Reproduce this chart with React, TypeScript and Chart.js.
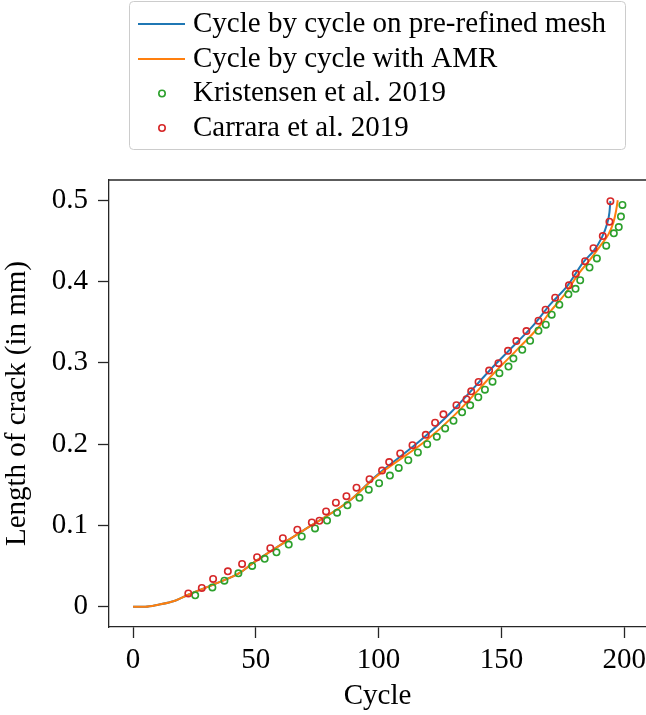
import { useEffect, useRef } from "react";
import { Chart, registerables } from "chart.js";

Chart.register(...registerables);

const FONT = "'Liberation Serif', 'Times New Roman', serif";

const xTickValues = [0, 50, 100, 150, 200];
const yTickValues = [0, 0.1, 0.2, 0.3, 0.4, 0.5];
const yTickLabels = ["0", "0.1", "0.2", "0.3", "0.4", "0.5"];

const seriesLabels = [
  "Cycle by cycle on pre-refined mesh",
  "Cycle by cycle with AMR",
  "Kristensen et al. 2019",
  "Carrara et al. 2019",
];
const seriesColors = ["#1f77b4", "#ff7f0e", "#2ca02c", "#d62728"];

const preRefinedCycles = [0, 5, 10.3, 17.1, 22.5, 34.1, 43.6, 48.5, 69.4, 88.4, 98.6, 117.6, 129.1, 147.5, 156.3, 163, 169.9, 176.7, 183.4, 187.5, 190.9, 193, 194, 194.4];
const preRefinedLength = [0, 0, 0.0025, 0.0074, 0.0148, 0.029, 0.042, 0.053, 0.094, 0.131, 0.16, 0.206, 0.238, 0.298, 0.325, 0.346, 0.372, 0.394, 0.424, 0.4374, 0.454, 0.4704, 0.4848, 0.499];

const amrCycles = [0, 5, 10.3, 17.1, 22.5, 34.1, 43.6, 48.5, 69.4, 88.4, 98.6, 119.6, 131, 147.5, 156.3, 165.5, 169.9, 176, 181.4, 186.2, 190.2, 193.6, 195.6, 196.7, 197.4];
const amrLength = [0, 0, 0.0025, 0.0074, 0.0148, 0.029, 0.042, 0.053, 0.094, 0.131, 0.159, 0.205, 0.236, 0.289, 0.316, 0.345, 0.363, 0.385, 0.4095, 0.4272, 0.4436, 0.458, 0.4725, 0.4868, 0.5];

const kristensenCycles = [25.3, 32.3, 37.2, 42.9, 48.5, 53.6, 58.4, 63.4, 68.7, 74.1, 79.0, 83.1, 87.3, 92.2, 96.0, 100.2, 104.6, 108.2, 112.1, 116.0, 119.8, 123.7, 127.1, 130.5, 134.0, 137.3, 140.6, 143.3, 146.4, 149.2, 152.9, 154.9, 158.5, 161.7, 165.1, 168.1, 170.5, 173.6, 177.3, 180.2, 182.1, 185.9, 188.9, 192.7, 195.8, 197.8, 198.7, 199.3];
const kristensenLength = [0.014, 0.0238, 0.0321, 0.0411, 0.0502, 0.0589, 0.067, 0.0765, 0.0864, 0.0963, 0.106, 0.1157, 0.1247, 0.134, 0.144, 0.1519, 0.1614, 0.1707, 0.1802, 0.1898, 0.2, 0.209, 0.2194, 0.2288, 0.2391, 0.2478, 0.2577, 0.267, 0.2769, 0.2873, 0.2954, 0.3053, 0.316, 0.3272, 0.3395, 0.3469, 0.3593, 0.3716, 0.3843, 0.391, 0.4016, 0.4173, 0.4285, 0.4441, 0.4593, 0.467, 0.4799, 0.4942];

const carraraCycles = [22.5, 28.0, 32.6, 38.6, 44.4, 50.5, 55.9, 61.0, 66.9, 72.8, 75.9, 78.6, 82.6, 86.9, 91.0, 96.3, 101.4, 104.3, 108.8, 113.8, 119.2, 123.0, 126.4, 131.7, 135.8, 137.7, 140.7, 145.0, 148.8, 152.7, 156.1, 160.2, 165.1, 168.0, 171.9, 177.5, 180.3, 184.1, 187.5, 191.3, 194.0, 194.4];
const carraraLength = [0.0164, 0.0231, 0.0342, 0.0436, 0.0527, 0.0609, 0.072, 0.0843, 0.0947, 0.1037, 0.1058, 0.1173, 0.128, 0.136, 0.1465, 0.1568, 0.1675, 0.178, 0.1885, 0.1988, 0.2115, 0.2263, 0.2367, 0.248, 0.2552, 0.265, 0.2765, 0.2905, 0.2996, 0.3148, 0.3268, 0.3391, 0.3519, 0.3654, 0.3802, 0.3954, 0.4095, 0.425, 0.4411, 0.4559, 0.4737, 0.4988];

const toPoints = (xs: number[], ys: number[]) => xs.map((x, i) => ({ x, y: ys[i] }));

const AXIS_COLOR = "#262626";
const MARKER_R = 3.2;
const MARKER_W = 1.6;

const frameTopPlugin = {
  id: "frameTop",
  afterDraw(chart: any) {
    const { ctx, chartArea } = chart;
    ctx.save();
    ctx.strokeStyle = AXIS_COLOR;
    ctx.lineWidth = 1.3;
    ctx.beginPath();
    ctx.moveTo(chartArea.left, chartArea.top);
    ctx.lineTo(chartArea.right + 2, chartArea.top);
    ctx.stroke();
    ctx.restore();
  },
};

const boxLegendPlugin = {
  id: "boxLegend",
  afterDraw(chart: any) {
    const ctx = chart.ctx as CanvasRenderingContext2D;
    ctx.save();
    ctx.beginPath();
    (ctx as any).roundRect(129.5, 1.5, 496, 148, 4);
    ctx.fillStyle = "rgba(255,255,255,0.8)";
    ctx.fill();
    ctx.strokeStyle = "#cccccc";
    ctx.lineWidth = 1;
    ctx.stroke();
    const rowY = [24, 59, 93.5, 128];
    chart.data.datasets.forEach((ds: any, i: number) => {
      const y = rowY[i];
      if (ds.showLine) {
        ctx.strokeStyle = ds.borderColor;
        ctx.lineWidth = 2;
        ctx.beginPath();
        ctx.moveTo(138, y);
        ctx.lineTo(185, y);
        ctx.stroke();
      } else {
        ctx.strokeStyle = ds.borderColor;
        ctx.lineWidth = MARKER_W;
        ctx.beginPath();
        ctx.arc(162, y, MARKER_R, 0, Math.PI * 2);
        ctx.stroke();
      }
      ctx.fillStyle = "#000";
      ctx.font = `29px ${FONT}`;
      ctx.textAlign = "left";
      ctx.textBaseline = "middle";
      ctx.fillText(ds.label, 193, y);
    });
    ctx.restore();
  },
};

export default function App() {
  const ref = useRef<HTMLCanvasElement | null>(null);

  useEffect(() => {
    if (!ref.current) return;
    const lineDs = (i: number, xs: number[], ys: number[], order: number) => ({
      label: seriesLabels[i],
      data: toPoints(xs, ys),
      showLine: true,
      borderColor: seriesColors[i],
      backgroundColor: seriesColors[i],
      borderWidth: 2,
      pointRadius: 0,
      pointHoverRadius: 0,
      cubicInterpolationMode: "monotone" as const,
      fill: false,
      order,
    });
    const markerDs = (i: number, xs: number[], ys: number[], order: number) => ({
      label: seriesLabels[i],
      data: toPoints(xs, ys),
      showLine: false,
      borderColor: seriesColors[i],
      backgroundColor: "rgba(0,0,0,0)",
      pointBorderColor: seriesColors[i],
      pointBackgroundColor: "rgba(0,0,0,0)",
      pointRadius: MARKER_R,
      pointBorderWidth: MARKER_W,
      pointStyle: "circle",
      order,
    });

    const chart = new Chart(ref.current, {
      type: "scatter",
      data: {
        datasets: [
          lineDs(0, preRefinedCycles, preRefinedLength, 4),
          lineDs(1, amrCycles, amrLength, 3),
          markerDs(2, kristensenCycles, kristensenLength, 2),
          markerDs(3, carraraCycles, carraraLength, 1),
        ] as any,
      },
      options: {
        responsive: false,
        maintainAspectRatio: false,
        animation: false,
        devicePixelRatio: 1,
        layout: { autoPadding: false, padding: { top: 180, left: 0, right: 0, bottom: 0 } },
        plugins: {
          legend: { display: false },
          tooltip: { enabled: false },
        },
        scales: {
          x: {
            type: "linear",
            min: -9.8,
            max: 208.9,
            afterBuildTicks: (s: any) => {
              s.ticks = xTickValues.map((v) => ({ value: v }));
            },
            afterFit: (s: any) => {
              s.height = 88;
              s.paddingLeft = 0;
              s.paddingRight = 0;
            },
            ticks: {
              font: { family: FONT, size: 29 },
              color: "#000",
              padding: 5,
              maxRotation: 0,
              autoSkip: false,
            },
            grid: {
              drawOnChartArea: false,
              drawTicks: true,
              tickLength: 11,
              tickColor: AXIS_COLOR,
              tickWidth: 1.3,
            },
            border: { display: true, color: AXIS_COLOR, width: 1.3 },
            title: {
              display: true,
              text: "Cycle",
              font: { family: FONT, size: 29 },
              color: "#000",
              padding: { top: 0, bottom: 1.6 },
            },
          },
          y: {
            type: "linear",
            min: -0.0249,
            max: 0.5249,
            afterBuildTicks: (s: any) => {
              s.ticks = yTickValues.map((v) => ({ value: v }));
            },
            afterFit: (s: any) => {
              s.width = 109;
              s.paddingTop = 0;
              s.paddingBottom = 0;
            },
            ticks: {
              font: { family: FONT, size: 29 },
              color: "#000",
              padding: 10,
              autoSkip: false,
              callback: (_v: any, i: number) => yTickLabels[i],
            },
            grid: {
              drawOnChartArea: false,
              drawTicks: true,
              tickLength: 11,
              tickColor: AXIS_COLOR,
              tickWidth: 1.3,
            },
            border: { display: true, color: AXIS_COLOR, width: 1.3 },
            title: {
              display: true,
              text: "Length of crack (in mm)",
              font: { family: FONT, size: 29 },
              color: "#000",
              padding: { top: 0, bottom: 0 },
            },
          },
        },
      },
      plugins: [frameTopPlugin, boxLegendPlugin],
    } as any);
    return () => chart.destroy();
  }, []);

  return (
    <div style={{ position: "fixed", left: 0, top: 0, width: 646, height: 715, background: "#fff", overflow: "hidden" }}>
      <canvas ref={ref} width={646} height={715} style={{ display: "block", width: 646, height: 715 }} />
    </div>
  );
}
